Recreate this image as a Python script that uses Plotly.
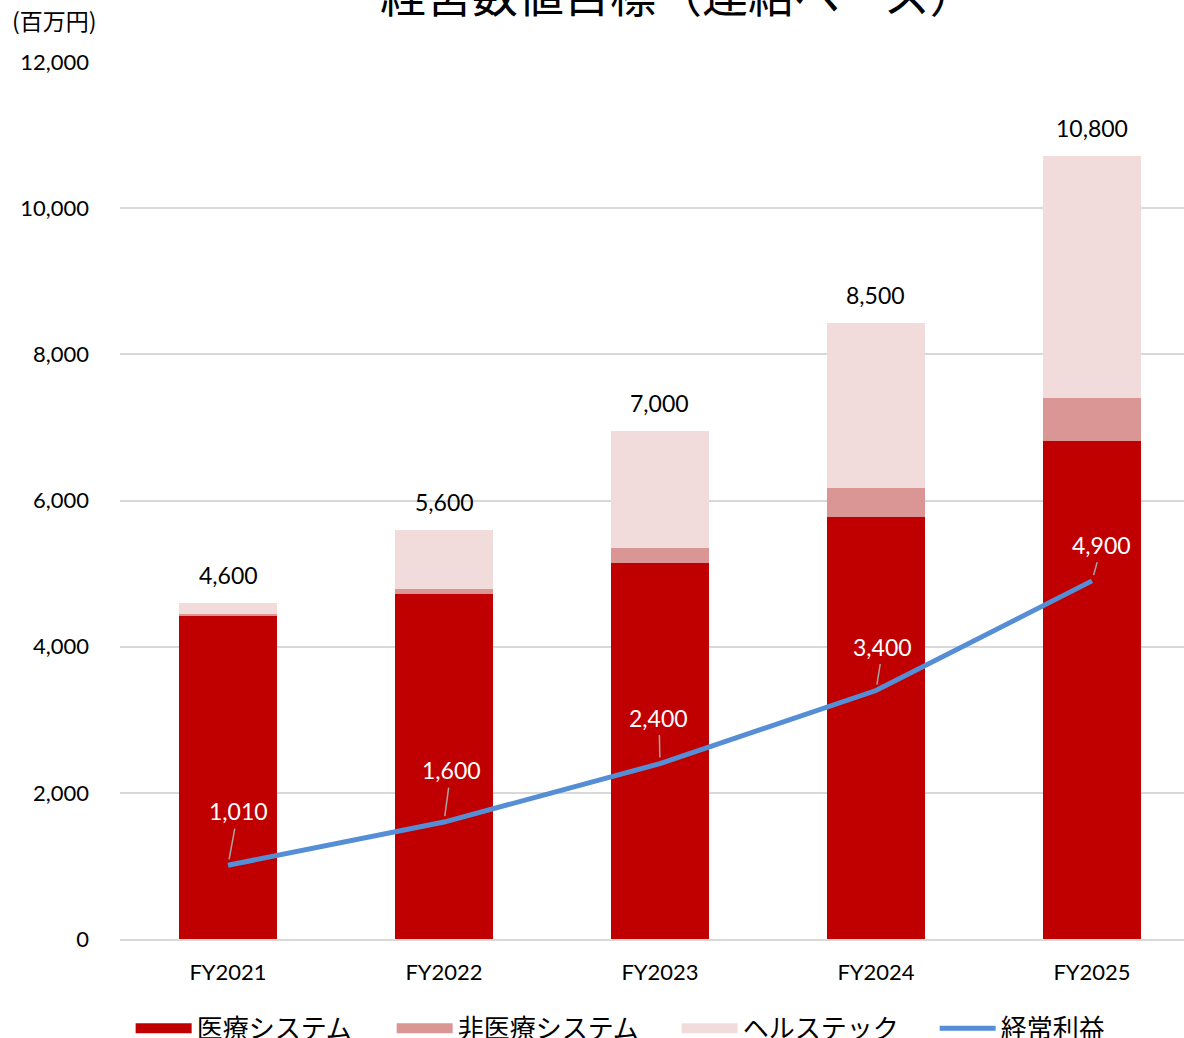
import plotly.graph_objects as go

# data (百万円)
years = ["FY2021", "FY2022", "FY2023", "FY2024", "FY2025"]
medical = [4420, 4720, 5150, 5780, 6810]
non_medical = [30, 70, 200, 390, 590]
healthtech = [150, 810, 1600, 2260, 3310]
total_labels = [4600, 5600, 7000, 8500, 10800]
ordinary_profit = [1010, 1600, 2400, 3400, 4900]

series_names = ["医療システム", "非医療システム", "ヘルステック", "経常利益"]
bar_colors = ["#C00000", "#D99694", "#F2DCDB"]
line_color = "#558ED5"

# label offsets (px) for the profit line labels
label_offsets = [(10, -54), (7, -52), (-1, -46), (7, -44), (10, -36)]
# legend entry text widths (px), so the entries spread like the original
legend_widths = [190, 214, 187]

FONT = "Lato, 'Noto Sans CJK JP', sans-serif"
JP_FONT = "'Noto Sans CJK JP', sans-serif"

fig = go.Figure()

for vals, name, col in zip([medical, non_medical, healthtech], series_names, bar_colors):
    fig.add_trace(go.Bar(x=years, y=vals, name=name, showlegend=False,
                         marker=dict(color=col, line=dict(width=0))))

fig.add_trace(go.Scatter(x=years, y=ordinary_profit, name=series_names[3],
                         mode="lines", showlegend=False,
                         line=dict(color=line_color, width=5)))

# legend entries: wide swatches like the original
for name, col, lw in zip(series_names[:3], bar_colors, legend_widths):
    fig.add_trace(go.Scatter(x=[None], y=[None], name=name, mode="lines",
                             legendwidth=lw, line=dict(color=col, width=14)))
fig.add_trace(go.Scatter(x=[None], y=[None], name=series_names[3], mode="lines",
                         line=dict(color=line_color, width=5)))

annotations = []
for i, yr in enumerate(years):
    top = medical[i] + non_medical[i] + healthtech[i]
    annotations.append(dict(
        x=yr, y=top, xref="x", yref="y", text=f"{total_labels[i]:,}",
        showarrow=False, yanchor="bottom", yshift=12,
        font=dict(size=23, color="#000000", family=FONT)))
    dx, dy = label_offsets[i]
    annotations.append(dict(
        x=yr, y=ordinary_profit[i], xref="x", yref="y",
        text=f"{ordinary_profit[i]:,}", showarrow=True, arrowhead=0,
        arrowwidth=1.5, arrowcolor="#A6A6A6", ax=dx, ay=dy,
        standoff=6, startstandoff=2,
        font=dict(size=23, color="#FFFFFF", family=FONT)))

annotations.append(dict(
    text="(百万円)", xref="paper", yref="paper", x=-0.1034, y=1.048,
    xanchor="left", yanchor="middle", showarrow=False,
    font=dict(size=23, color="#000000", family=JP_FONT)))

# title sits partly above the page edge, as in the reference
annotations.append(dict(
    text="経営数値目標（連結ベース）", xref="paper", yref="paper",
    x=0.524, y=1.0793, xanchor="center", yanchor="middle", showarrow=False,
    font=dict(size=46, color="#000000", family=JP_FONT)))

fig.update_layout(
    width=1184, height=1038,
    barmode="stack", bargap=0.545,
    xaxis=dict(range=[-0.5, 4.426], showgrid=False, showline=True,
               linecolor="#D9D9D9", linewidth=2, ticks="", automargin=False,
               ticklabelstandoff=13,
               tickfont=dict(size=22, color="#000000", family=FONT)),
    yaxis=dict(range=[0, 12000], dtick=2000, tickformat=",d",
               gridcolor="#D9D9D9", gridwidth=2, zeroline=False,
               showline=False, ticks="", ticklabelstandoff=30, automargin=False,
               tickfont=dict(size=22, color="#000000", family=FONT)),
    legend=dict(orientation="h", x=0.01, xanchor="left", y=-0.102,
                yanchor="middle", traceorder="normal",
                font=dict(size=26, color="#000000", family=JP_FONT),
                itemwidth=56),
    annotations=annotations,
    margin=dict(l=120, r=0, t=62, b=99, autoexpand=False),
    paper_bgcolor="#FFFFFF", plot_bgcolor="#FFFFFF",
    font=dict(family=FONT),
)

# drop the default page margin so the figure sits at the window's corner
fig.write_html("out.html", config={"displayModeBar": False},
               post_script="document.body.style.margin='0';")
